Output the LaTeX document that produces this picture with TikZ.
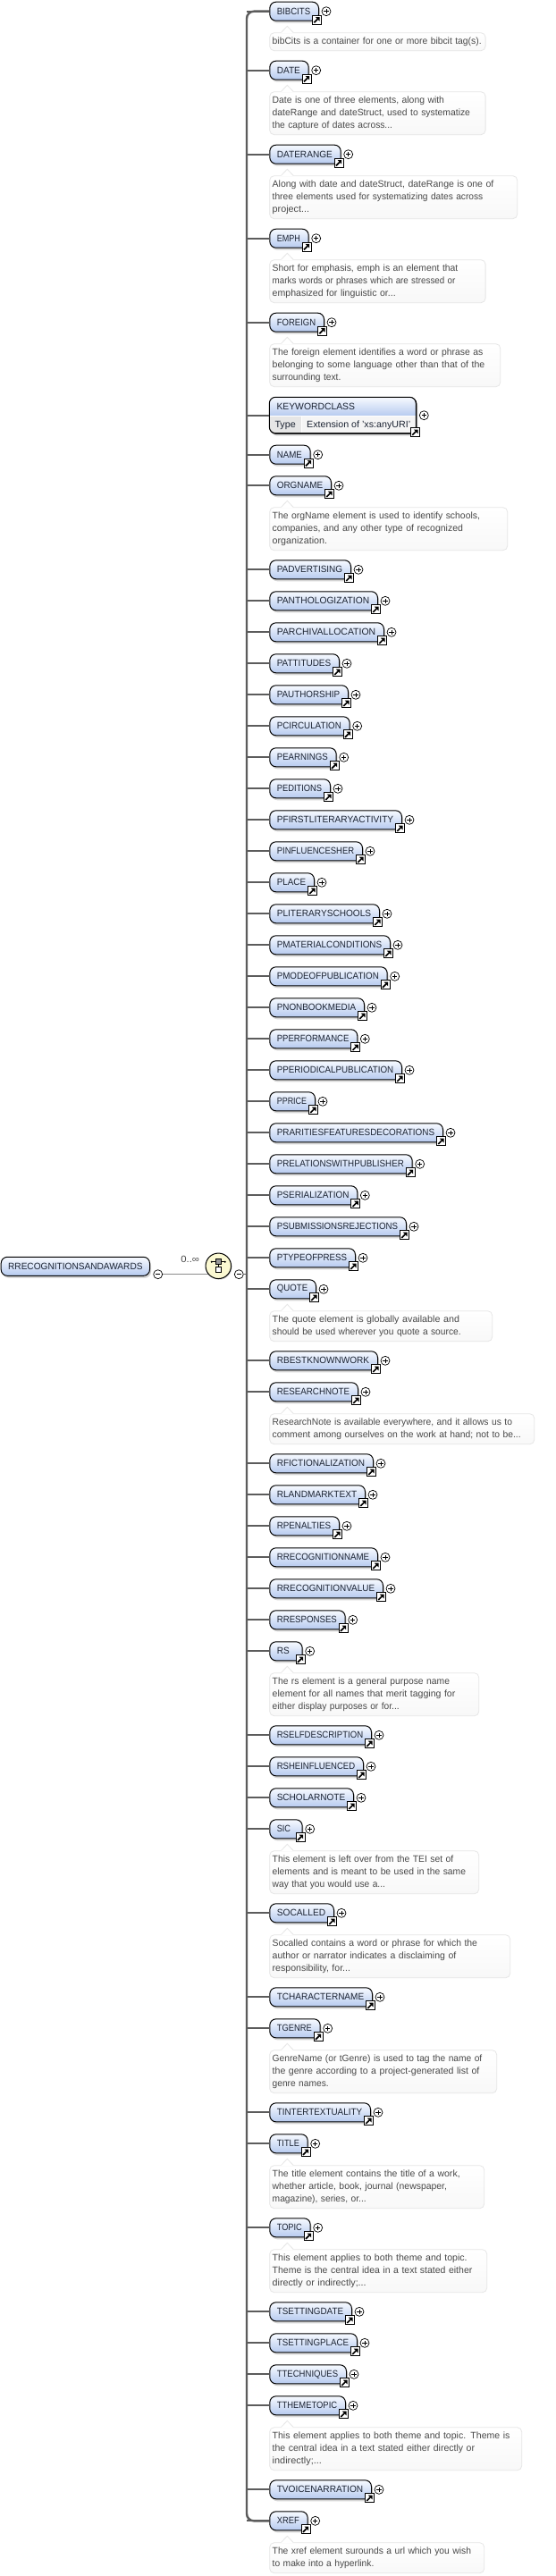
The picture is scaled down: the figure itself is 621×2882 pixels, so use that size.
\documentclass[tikz,border=0pt]{standalone}
\usepackage{fontspec}
\usepackage{graphicx}
\usetikzlibrary{shadows}
\setmainfont{Liberation Sans}
\definecolor{elemtop}{HTML}{F7FAFF}
\definecolor{elembot}{HTML}{B6CAEF}
\definecolor{labelink}{HTML}{1C2433}
\definecolor{noteink}{HTML}{484848}
\definecolor{noteline}{HTML}{E6E6E6}
\definecolor{notebot}{HTML}{F8F8F8}
\definecolor{barcol}{HTML}{5C5C5C}
\definecolor{seqfill}{HTML}{FBF9D2}
\definecolor{typecell}{HTML}{E6E6E6}
\definecolor{valcell}{HTML}{F5F5F5}
\tikzset{
 elembox/.style={draw=black,line width=1pt,rounded corners=7pt,top color=elemtop,bottom color=elembot,
   minimum height=21pt,inner sep=0pt,font=\fontsize{10.5}{12}\selectfont,text=labelink,
   drop shadow={shadow xshift=1.5pt,shadow yshift=-2.5pt,fill=black!40,opacity=.4}},
 linkbox/.style={draw=black,fill=white,line width=1pt,minimum size=10pt,inner sep=0pt},
 pluscirc/.style={circle,draw=black,fill=white,line width=.7pt,minimum size=10pt,inner sep=0pt},
 stub/.style={draw=barcol,line width=1.8pt},
 barline/.style={draw=barcol,line width=2.4pt},
 notebox/.style={draw=noteline,line width=.8pt,rounded corners=5pt,top color=white,bottom color=notebot,
   inner xsep=3pt,inner ysep=0pt,align=left,font=\fontsize{10.5}{14}\selectfont,text=noteink},
 noteptr/.style={draw=noteline,line width=.8pt},
 thinline/.style={draw=black!45,line width=.8pt},
}
% label, centre y, right edge, text width
\newcommand\elemw[4]{%
 \pgfmathsetmacro\elW{#3-301.3}%
 \pgfmathsetmacro\elK{#3-301.3-16-#4}%
 \node[elembox,minimum width=\elW pt,anchor=west] (#1) at (301.3,#2) {\resizebox{#4pt}{\height}{#1}\kern\elK pt};
 \draw[stub] (#1.west -| bartop) -- (#1.west);
 \node[linkbox] (#1-link) at (#3-1.7,#2+9.6) {};
 \linkicon{#1-link}
 \node[pluscirc] (#1-plus) at (#3+9,#2) {};
 \plusmark{#1-plus}
}
\newcommand\elem[3]{%
 \pgfmathsetmacro\txW{#3-301.3-17.3}%
 \edef\txWx{\txW}%
 \elemw{#1}{#2}{#3}{\txWx}%
}
\newcommand\linkicon[1]{%
 \draw[line width=1.7pt] ([shift={(-3,3)}]#1.center) -- ([shift={(1,-1)}]#1.center);
 \fill ([shift={(3.2,-3.2)}]#1.center) -- ([shift={(-1.4,-3.2)}]#1.center) -- ([shift={(3.2,1.4)}]#1.center) -- cycle;
}
\newcommand\plusmark[1]{%
 \draw[line width=.7pt] ([xshift=-2.7pt]#1.center) -- ([xshift=2.7pt]#1.center);
 \draw[line width=.7pt] ([yshift=-2.7pt]#1.center) -- ([yshift=2.7pt]#1.center);
}
\newcommand\minusmark[1]{%
 \draw[line width=.7pt] ([xshift=-2.7pt]#1.center) -- ([xshift=2.7pt]#1.center);
}
\newcommand\nl[2]{\pgfmathsetmacro\lnW{(#1-73)/3}\resizebox{\lnW pt}{\height}{#2}}
% name, top, right, lines count, text
\newcommand\note[5]{%
 \pgfmathsetmacro\ntW{#3-301.3-6}%
 \pgfmathsetmacro\ntH{6+14*#4}%
 \node[notebox,anchor=north west,text width=\ntW pt,minimum height=\ntH pt] (#1) at (301.3,#2) {#5};
 \fill[white] ([shift={(13.3,.6)}]#1.north west) -- ([shift={(20,-7)}]#1.north west) -- ([shift={(26.7,.6)}]#1.north west) -- cycle;
 \draw[noteptr] ([shift={(13.3,0)}]#1.north west) -- ([shift={(20,-7)}]#1.north west) -- ([shift={(26.7,0)}]#1.north west);
}
\begin{document}
\begin{tikzpicture}[x=1pt,y=-1pt]
\useasboundingbox (0,0) rectangle (621,2882);
\fill[white] (0,0) rectangle (621,2882);
\coordinate (bartop) at (276,12.7);
\coordinate (barbot) at (276,2820.3);
\coordinate (barone) at (301.3,12.7);
\coordinate (bartwo) at (301.3,2820.3);
\draw[barline,rounded corners=8pt] (barone) -- (bartop) -- (barbot) -- (bartwo);
% root
\node[elembox,minimum width=166.3pt,anchor=west] (ROOT) at (0.7,1416.8) {\resizebox{150.4pt}{\height}{RRECOGNITIONSANDAWARDS}};
\node[pluscirc] (rootminus) at (176.7,1425.7) {};
\minusmark{rootminus}
\draw[thinline] (rootminus.east) -- (rootminus -| 244.3,0);
\node[circle,draw=black,line width=1pt,fill=seqfill,minimum size=28.5pt,inner sep=0pt,drop shadow={shadow xshift=1pt,shadow yshift=-1.2pt,fill=black!40,opacity=.4}] (seq) at (244.3,1416.3) {};
\node[draw=black,line width=.7pt,fill=black!40,minimum size=6pt,inner sep=0pt] (seqa) at (244.3,1411.7) {};
\node[draw=black,line width=.7pt,fill=white,minimum size=6pt,inner sep=0pt] (seqb) at (244.3,1420.4) {};
\draw[line width=.8pt] ([xshift=-7.5pt]seqa.center) -- (seqa.west);
\draw[line width=.8pt] (seqa.east) -- ([xshift=7.5pt]seqa.center);
\fill ([xshift=-7.5pt]seqa.center) circle (1.1pt);
\fill ([xshift=7.5pt]seqa.center) circle (1.1pt);
\draw[line width=.8pt] (seqa.south) -- (seqb.north);
\node[pluscirc] (seqminus) at (267.3,1425.7) {};
\minusmark{seqminus}
\draw[stub,line width=1pt] (seqminus.east) -- (seqminus -| bartop);
\node[font=\fontsize{10.5}{12}\selectfont,text=noteink,inner sep=0pt] (card) at (212.7,1409.3) {\resizebox{20.6pt}{\height}{0..∞}};
% elements
\elem{BIBCITS}{12.7}{356}
\note{nBIBCITS}{36.3}{542.7}{1}{\nl{775}{bibCits is a container for one or more bibcit tag(s).}}
\elem{DATE}{78.7}{344.7}
\note{nDATE}{102.3}{542.7}{3}{\nl{650}{Date is one of three elements, along with}\\\nl{737}{dateRange and dateStruct, used to systematize}\\\nl{476}{the capture of dates across...}}
\elem{DATERANGE}{172.7}{380.7}
\note{nDATERANGE}{196.3}{578.3}{3}{\nl{816}{Along with date and dateStruct, dateRange is one of}\\\nl{780}{three elements used for systematizing dates across}\\\nl{197}{project...}}
\elem{EMPH}{266.7}{344.7}
\note{nEMPH}{290.3}{542.7}{3}{\nl{696}{Short for emphasis, emph is an element that}\\\nl{687}{marks words or phrases which are stressed or}\\\nl{487}{emphasized for linguistic or...}}
\elem{FOREIGN}{360.7}{362}
\note{nFOREIGN}{384.3}{559.3}{3}{\nl{780}{The foreign element identifies a word or phrase as}\\\nl{786}{belonging to some language other than that of the}\\\nl{303}{surrounding text.}}
% keywordclass
\node[elembox,minimum width=164pt,minimum height=40.4pt,anchor=north west] (kw) at (301.3,444.3) {};
\begin{scope}
\clip[rounded corners=7pt] (301.3,444.3) rectangle (465.3,484.7);
\shade[top color=elemtop,bottom color=elembot] (301.3,444.3) rectangle (465.3,465.4);
\fill[white] (301.3,465.4) rectangle (465.3,484.7);
\fill[typecell] (301.3,466.2) rectangle (337.2,484.7);
\fill[valcell] (338,466.2) rectangle (465.3,484.7);
\end{scope}
\draw[black,line width=1pt,rounded corners=7pt] (301.3,444.3) rectangle (465.3,484.7);
\draw[stub] (kw.west -| bartop) -- (kw.west);
\node[font=\fontsize{10.5}{12}\selectfont,text=labelink,inner sep=0pt,anchor=west] (kwname) at (309.3,455) {\resizebox{87.5pt}{\height}{KEYWORDCLASS}};
\node[font=\fontsize{10.5}{12}\selectfont,text=labelink,inner sep=0pt,anchor=west] (kwtype) at (307.3,475.5) {\resizebox{23.3pt}{\height}{Type}};
\node[font=\fontsize{10.5}{12}\selectfont,text=labelink,inner sep=0pt,anchor=west] (kwval) at (343,475.5) {\resizebox{116pt}{\height}{Extension of 'xs:anyURI'}};
\node[linkbox] (kw-link) at (464.3,483.7) {};
\linkicon{kw-link}
\node[pluscirc] (kw-plus) at (474.3,464.7) {};
\plusmark{kw-plus}
\elem{NAME}{508.7}{346.7}
\elem{ORGNAME}{543.3}{370}
\note{nORGNAME}{567.3}{567.3}{3}{\nl{770}{The orgName element is used to identify schools,}\\\nl{713}{companies, and any other type of recognized}\\\nl{257}{organization.}}
\elem{PADVERTISING}{637.3}{392}
\elem{PANTHOLOGIZATION}{672.3}{422}
\elem{PARCHIVALLOCATION}{707.3}{429}
\elem{PATTITUDES}{742.3}{379}
\elem{PAUTHORSHIP}{777.3}{389}
\elem{PCIRCULATION}{812.3}{390.7}
\elem{PEARNINGS}{847.3}{375.7}
\elem{PEDITIONS}{882.3}{369}
\elem{PFIRSTLITERARYACTIVITY}{917.3}{449}
\elem{PINFLUENCESHER}{952.3}{405}
\elem{PLACE}{987.3}{351}
\elem{PLITERARYSCHOOLS}{1022.3}{424}
\elem{PMATERIALCONDITIONS}{1057.3}{436}
\elem{PMODEOFPUBLICATION}{1092.3}{432.7}
\elem{PNONBOOKMEDIA}{1127.3}{407}
\elem{PPERFORMANCE}{1162.3}{399.3}
\elem{PPERIODICALPUBLICATION}{1197.3}{449}
\elem{PPRICE}{1232.3}{352}
\elem{PRARITIESFEATURESDECORATIONS}{1267.3}{495}
\elem{PRELATIONSWITHPUBLISHER}{1302.3}{460.7}
\elem{PSERIALIZATION}{1337.3}{399.3}
\elem{PSUBMISSIONSREJECTIONS}{1372.3}{454}
\elem{PTYPEOFPRESS}{1407.3}{397}
\elem{QUOTE}{1442.3}{353}
\note{nQUOTE}{1466.3}{550.3}{2}{\nl{701}{The quote element is globally available and}\\\nl{706}{should be used wherever you quote a source.}}
\elem{RBESTKNOWNWORK}{1522.3}{422}
\elem{RESEARCHNOTE}{1557.3}{400}
\note{nRESEARCHNOTE}{1581.3}{597.3}{2}{\nl{878}{ResearchNote is available everywhere, and it allows us to}\\\nl{907}{comment among ourselves on the work at hand; not to be...}}
\elem{RFICTIONALIZATION}{1637.3}{417}
\elem{RLANDMARKTEXT}{1672.3}{408}
\elem{RPENALTIES}{1707.3}{379}
\elem{RRECOGNITIONNAME}{1742.3}{422}
\elem{RRECOGNITIONVALUE}{1777.3}{428}
\elem{RRESPONSES}{1812.3}{385.7}
\elemw{RS}{1847.3}{337.7}{14}
\note{nRS}{1871.3}{535.3}{3}{\nl{668}{The rs element is a general purpose name}\\\nl{687}{element for all names that merit tagging for}\\\nl{499}{either display purposes or for...}}
\elem{RSELFDESCRIPTION}{1941.3}{415}
\elem{RSHEINFLUENCED}{1976.3}{406}
\elem{SCHOLARNOTE}{2011.3}{395}
\elemw{SIC}{2046.3}{337.7}{15.3}
\note{nSIC}{2070.3}{535.3}{3}{\nl{681}{This element is left over from the TEI set of}\\\nl{722}{elements and is meant to be used in the same}\\\nl{452}{way that you would use a...}}
\elem{SOCALLED}{2140.3}{373}
\note{nSOCALLED}{2164.3}{570.3}{3}{\nl{761}{Socalled contains a word or phrase for which the}\\\nl{690}{author or narrator indicates a disclaiming of}\\\nl{335}{responsibility, for...}}
\elem{TCHARACTERNAME}{2234.3}{416}
\elem{TGENRE}{2269.3}{357.7}
\note{nTGENRE}{2293.3}{555.3}{3}{\nl{777}{GenreName (or tGenre) is used to tag the name of}\\\nl{768}{the genre according to a project-generated list of}\\\nl{262}{genre names.}}
\elem{TINTERTEXTUALITY}{2363.3}{414}
\elem{TITLE}{2398.3}{343.7}
\note{nTITLE}{2422.3}{541.3}{3}{\nl{703}{The title element contains the title of a work,}\\\nl{659}{whether article, book, journal (newspaper,}\\\nl{388}{magazine), series, or...}}
\elem{TOPIC}{2492.3}{346.7}
\note{nTOPIC}{2516.3}{544.3}{3}{\nl{727}{This element applies to both theme and topic.}\\\nl{744}{Theme is the central idea in a text stated either}\\\nl{388}{directly or indirectly;...}}
\elem{TSETTINGDATE}{2586.3}{393}
\elem{TSETTINGPLACE}{2621.3}{399}
\elem{TTECHNIQUES}{2656.3}{387}
\elem{TTHEMETOPIC}{2691.3}{386}
\note{nTTHEMETOPIC}{2715.3}{583.3}{3}{\nl{870}{This element applies to both theme and topic. Theme is}\\\nl{752}{the central idea in a text stated either directly or}\\\nl{239}{indirectly;...}}
\elem{TVOICENARRATION}{2785.3}{415}
\elem{XREF}{2820.3}{343.7}
\note{nXREF}{2844.3}{541.3}{2}{\nl{740}{The xref element surounds a url which you wish}\\\nl{414}{to make into a hyperlink.}}
\end{tikzpicture}
\end{document}
